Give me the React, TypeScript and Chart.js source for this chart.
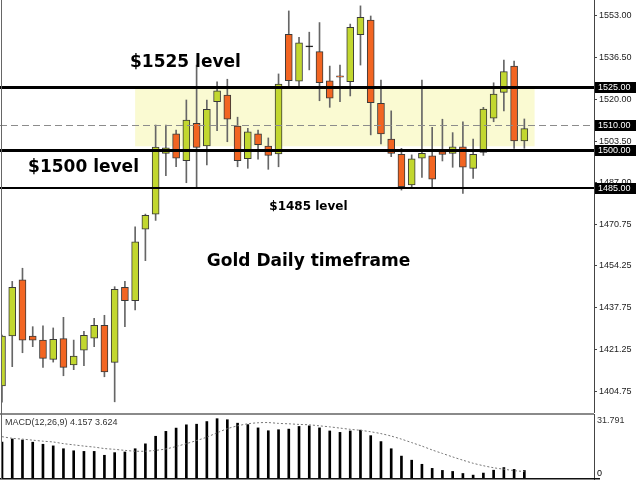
import React, { useEffect, useRef } from "react";
import { Chart, registerables } from "chart.js";

Chart.register(...registerables);

// ---------- DATA ----------
const opens = [
  1406.8, 1426.5, 1448.7, 1426.5, 1424.9, 1417.3, 1425.5, 1415.1, 1420.9, 1425.7,
  1430.7, 1416.1, 1445.8, 1440.5, 1468.7, 1474.7, 1498.7, 1506.4, 1495.8, 1510.6,
  1501.6, 1519.1, 1521.7, 1509.5, 1496.6, 1506.4, 1501.6, 1498.5, 1545.8, 1527.2,
  1541.0, 1538.9, 1527.4, 1529.3, 1527.0, 1545.6, 1551.4, 1518.5, 1504.3, 1498.3,
  1486.2, 1496.8, 1497.7, 1499.4, 1498.7, 1501.3, 1492.8, 1499.1, 1512.6, 1522.8,
  1533.2, 1503.6,
];
const highs = [
  1426.9, 1448.1, 1453.3, 1430.2, 1430.5, 1429.7, 1433.9, 1424.9, 1428.4, 1433.5,
  1434.7, 1446.0, 1448.1, 1469.7, 1474.7, 1509.9, 1509.9, 1507.9, 1519.8, 1533.6,
  1519.8, 1527.0, 1528.0, 1513.0, 1508.6, 1507.9, 1504.8, 1530.1, 1555.0, 1544.6,
  1546.6, 1550.4, 1533.2, 1533.6, 1549.8, 1557.0, 1553.0, 1527.7, 1515.5, 1500.7,
  1498.1, 1527.7, 1509.0, 1512.2, 1506.9, 1511.2, 1504.3, 1516.9, 1526.6, 1535.6,
  1535.2, 1512.3,
];
const lows = [
  1400.4, 1414.4, 1419.9, 1422.3, 1414.1, 1416.2, 1410.8, 1413.2, 1414.8, 1422.3,
  1410.4, 1400.5, 1430.2, 1436.8, 1456.3, 1472.2, 1489.9, 1493.4, 1487.1, 1485.5,
  1494.1, 1507.7, 1503.3, 1493.4, 1492.8, 1496.4, 1492.4, 1493.4, 1525.1, 1525.1,
  1531.7, 1519.5, 1516.9, 1519.1, 1521.4, 1533.6, 1506.0, 1502.4, 1497.4, 1484.2,
  1485.5, 1489.2, 1485.5, 1495.7, 1493.2, 1482.9, 1488.8, 1497.9, 1511.2, 1515.5,
  1500.7, 1500.7,
];
const closes = [
  1426.5, 1445.8, 1424.9, 1424.9, 1417.7, 1425.2, 1414.1, 1418.6, 1426.8, 1430.7,
  1412.3, 1445.0, 1440.5, 1463.7, 1474.2, 1501.2, 1500.9, 1496.8, 1511.9, 1501.1,
  1516.1, 1523.4, 1512.2, 1495.8, 1507.2, 1502.1, 1497.9, 1526.1, 1527.4, 1542.4,
  1540.8, 1526.6, 1520.5, 1528.8, 1548.5, 1552.5, 1518.7, 1506.4, 1498.7, 1485.5,
  1496.5, 1498.7, 1488.5, 1498.3, 1501.3, 1493.2, 1498.3, 1516.2, 1522.1, 1531.0,
  1503.6, 1508.5,
];

const macdHist = [
  18.0, 19.6, 19.1, 18.0, 17.0, 16.2, 14.8, 13.8, 13.5, 13.5,
  11.6, 12.9, 13.2, 14.8, 17.2, 20.9, 23.3, 24.9, 26.5, 26.8,
  28.1, 29.5, 29.0, 27.3, 26.6, 25.0, 23.6, 24.1, 24.4, 25.7,
  26.0, 25.0, 23.5, 22.8, 23.5, 23.9, 21.2, 18.3, 14.8, 11.2,
  9.2, 7.2, 5.2, 4.2, 3.7, 2.7, 1.9, 2.9, 4.3, 5.6,
  4.7, 4.157,
];
const macdSignal = [
  20.7, 19.9, 19.5, 19.0, 18.5, 18.1, 17.3, 16.7, 16.1, 15.6,
  14.9, 14.5, 14.0, 13.6, 13.6, 14.0, 14.7, 15.9, 17.3, 18.8,
  20.5, 22.6, 24.6, 26.0, 27.0, 27.5, 27.6, 27.2, 27.0, 26.7,
  26.5, 26.0, 25.5, 24.9, 24.3, 23.8, 23.1, 22.2, 21.0, 19.5,
  17.8, 16.1, 14.2, 12.5, 10.8, 9.2, 7.7, 6.5, 5.5, 4.8,
  4.1, 3.624,
];

const priceTicks = [1404.75, 1421.25, 1437.75, 1454.25, 1470.75, 1487.0, 1503.5, 1520.0, 1536.5, 1553.0];
const levelLines = [1525, 1500, 1485];
const levelWidths = [3, 3, 2];
const dashedLevel = 1510;
const highlightLevels = [1525, 1510, 1500, 1485];
const zoneIndexRange = [13, 52];
const zonePriceRange = [1501.5, 1525];
const noteTexts = ["$1525 level", "$1500 level", "$1485 level", "Gold Daily timeframe"];
const noteX = [12.5, 2.55, 26.1, 20.0];
const noteY = [1534.6, 1492.9, 1477.5, 1455.8];
const noteSizes = [17, 17, 12, 17];
const macdMax = 31.791;
const macdTitle = "MACD(12,26,9) 4.157 3.624";

// ---------- STYLE ----------
const X_MIN = 0;
const X_MAX = 57.8;
const Y_MIN = 1396.08;
const Y_MAX = 1559.32;
const UP = "#c2d72f";
const DOWN = "#f26522";
const AXIS_W = 46;
const LABEL_FONT = '9px "Liberation Sans", Arial, sans-serif';

const fixAxis = (s: any) => {
  s.width = AXIS_W;
  s.paddingTop = 0;
  s.paddingBottom = 0;
};

const mainPlugin = {
  id: "mainDecor",
  beforeDatasetsDraw(chart: any) {
    const { ctx, scales } = chart;
    const x = scales.x, y = scales.y;
    const x0 = x.getPixelForValue(zoneIndexRange[0]);
    const x1 = x.getPixelForValue(zoneIndexRange[1]);
    const y0 = y.getPixelForValue(zonePriceRange[1]);
    const y1 = y.getPixelForValue(zonePriceRange[0]);
    ctx.save();
    ctx.fillStyle = "#fafad2";
    ctx.fillRect(x0, y0, x1 - x0, y1 - y0);
    ctx.restore();
  },
  afterDatasetsDraw(chart: any) {
    const { ctx, chartArea, scales } = chart;
    const x = scales.x, y = scales.y;
    ctx.save();
    // dashed level
    const dy = Math.round(y.getPixelForValue(dashedLevel)) + 0.5;
    ctx.strokeStyle = "#8c8c8c";
    ctx.lineWidth = 1;
    ctx.setLineDash([7, 4]);
    ctx.beginPath();
    ctx.moveTo(0, dy);
    ctx.lineTo(chartArea.right, dy);
    ctx.stroke();
    ctx.setLineDash([]);
    // solid levels
    levelLines.forEach((lv, i) => {
      const w = levelWidths[i];
      let py = Math.round(y.getPixelForValue(lv));
      if (w % 2 === 1) py += 0.5;
      ctx.strokeStyle = "#000";
      ctx.lineWidth = w;
      ctx.beginPath();
      ctx.moveTo(0, py);
      ctx.lineTo(chartArea.right, py);
      ctx.stroke();
    });
    // notes
    ctx.fillStyle = "#000";
    ctx.textBaseline = "middle";
    ctx.textAlign = "left";
    noteTexts.forEach((t, i) => {
      ctx.font = `bold ${noteSizes[i]}px "DejaVu Sans", sans-serif`;
      ctx.fillText(t, x.getPixelForValue(noteX[i]), y.getPixelForValue(noteY[i]));
    });
    // left border
    ctx.strokeStyle = "#666";
    ctx.lineWidth = 1;
    ctx.beginPath();
    ctx.moveTo(chartArea.left - 0.5, 0);
    ctx.lineTo(chartArea.left - 0.5, chartArea.bottom);
    ctx.stroke();
    ctx.restore();
  },
  afterDraw(chart: any) {
    const { ctx, chartArea, scales } = chart;
    const y = scales.y;
    ctx.save();
    ctx.font = LABEL_FONT;
    ctx.textBaseline = "middle";
    ctx.textAlign = "left";
    highlightLevels.forEach((lv) => {
      const py = Math.round(y.getPixelForValue(lv));
      ctx.fillStyle = "#000";
      ctx.fillRect(chartArea.right + 1, py - 5, 41, 11);
      ctx.fillStyle = "#fff";
      ctx.fillText(lv.toFixed(2), chartArea.right + 4, py + 0.5);
    });
    ctx.restore();
  },
};

const macdPlugin = {
  id: "macdDecor",
  afterDraw(chart: any) {
    const { ctx, chartArea } = chart;
    ctx.save();
    // separator
    ctx.fillStyle = "#8a8a8a";
    ctx.fillRect(0, 0, chartArea.right, 2);
    // bottom line
    ctx.fillStyle = "#111";
    ctx.fillRect(0, chartArea.bottom - 1, chartArea.right + 6, 1.5);
    // left border
    ctx.strokeStyle = "#666";
    ctx.lineWidth = 1;
    ctx.beginPath();
    ctx.moveTo(chartArea.left - 0.5, 0);
    ctx.lineTo(chartArea.left - 0.5, chartArea.bottom);
    ctx.stroke();
    // texts
    ctx.font = LABEL_FONT;
    ctx.fillStyle = "#333";
    ctx.textBaseline = "middle";
    ctx.textAlign = "left";
    ctx.fillText(macdTitle, chartArea.left + 3, 10);
    ctx.fillText(macdMax.toFixed(3), chartArea.right + 3, 8);
    ctx.fillStyle = "#000";
    ctx.fillText("0", chartArea.right + 3, chartArea.bottom - 5);
    ctx.restore();
  },
};

export default function App() {
  const mainRef = useRef<HTMLCanvasElement>(null);
  const macdRef = useRef<HTMLCanvasElement>(null);

  useEffect(() => {
    Chart.defaults.font.family = '"Liberation Sans", Arial, sans-serif';
    const bodyColors = opens.map((o, i) =>
      Math.abs(o - closes[i]) < 0.3 ? "#000" : closes[i] >= o ? UP : DOWN
    );

    const main = new Chart(mainRef.current as HTMLCanvasElement, {
      type: "bar",
      data: {
        datasets: [
          {
            label: "body",
            data: opens.map((o, i) => ({ x: i, y: [o, closes[i]] })) as any,
            backgroundColor: bodyColors,
            borderColor: "#3a3a3a",
            borderWidth: 1,
            borderSkipped: false,
            barThickness: 7,
            minBarLength: 1,
            grouped: false,
            order: 0,
          } as any,
          {
            label: "wick",
            data: lows.map((l, i) => ({ x: i, y: [l, highs[i]] })) as any,
            backgroundColor: "#666",
            borderWidth: 0,
            barThickness: 1,
            grouped: false,
            order: 1,
          } as any,
        ],
      },
      options: {
        animation: false,
        responsive: true,
        maintainAspectRatio: false,
        events: [],
        layout: { padding: { left: 2, top: 0, bottom: 0, right: 0 } },
        plugins: { legend: { display: false }, tooltip: { enabled: false } },
        scales: {
          x: {
            type: "linear",
            min: X_MIN,
            max: X_MAX,
            offset: false,
            display: false,
          },
          y: {
            position: "right",
            min: Y_MIN,
            max: Y_MAX,
            afterBuildTicks: (s: any) => {
              s.ticks = priceTicks.map((v) => ({ value: v }));
            },
            afterFit: fixAxis,
            grid: { drawOnChartArea: false, drawTicks: true, tickLength: 3, color: "#444" },
            border: { display: true, color: "#444", width: 1 },
            ticks: {
              autoSkip: false,
              padding: 2,
              color: "#222",
              font: { size: 9, family: '"Liberation Sans", Arial, sans-serif' },
              callback: (v: any) => Number(v).toFixed(2),
            },
          },
        },
      } as any,
      plugins: [mainPlugin],
    });

    const macd = new Chart(macdRef.current as HTMLCanvasElement, {
      type: "bar",
      data: {
        datasets: [
          {
            type: "line",
            label: "signal",
            data: macdSignal.map((v, i) => ({ x: i, y: v })),
            borderColor: "#777",
            borderWidth: 1,
            borderDash: [2, 2],
            pointRadius: 0,
            tension: 0.3,
            order: 0,
          } as any,
          {
            label: "hist",
            data: macdHist.map((v, i) => ({ x: i, y: v })),
            backgroundColor: "#000",
            borderWidth: 0,
            barThickness: 2,
            grouped: false,
            order: 1,
          } as any,
        ],
      },
      options: {
        animation: false,
        responsive: true,
        maintainAspectRatio: false,
        events: [],
        layout: { padding: { left: 2, top: 1, bottom: 1, right: 0 } },
        plugins: { legend: { display: false }, tooltip: { enabled: false } },
        scales: {
          x: {
            type: "linear",
            min: X_MIN,
            max: X_MAX,
            offset: false,
            display: false,
          },
          y: {
            position: "right",
            min: 0,
            max: macdMax,
            afterFit: fixAxis,
            grid: { drawOnChartArea: false, drawTicks: false },
            border: { display: true, color: "#444", width: 1 },
            ticks: { display: false },
          },
        },
      } as any,
      plugins: [macdPlugin],
    });

    return () => {
      main.destroy();
      macd.destroy();
    };
  }, []);

  return (
    <div style={{ position: "absolute", left: 0, top: 0, width: 640, height: 480, background: "#fff" }}>
      <div style={{ position: "absolute", left: 0, top: 0, width: 640, height: 413 }}>
        <canvas ref={mainRef} />
      </div>
      <div style={{ position: "absolute", left: 0, top: 413, width: 640, height: 67 }}>
        <canvas ref={macdRef} />
      </div>
    </div>
  );
}
